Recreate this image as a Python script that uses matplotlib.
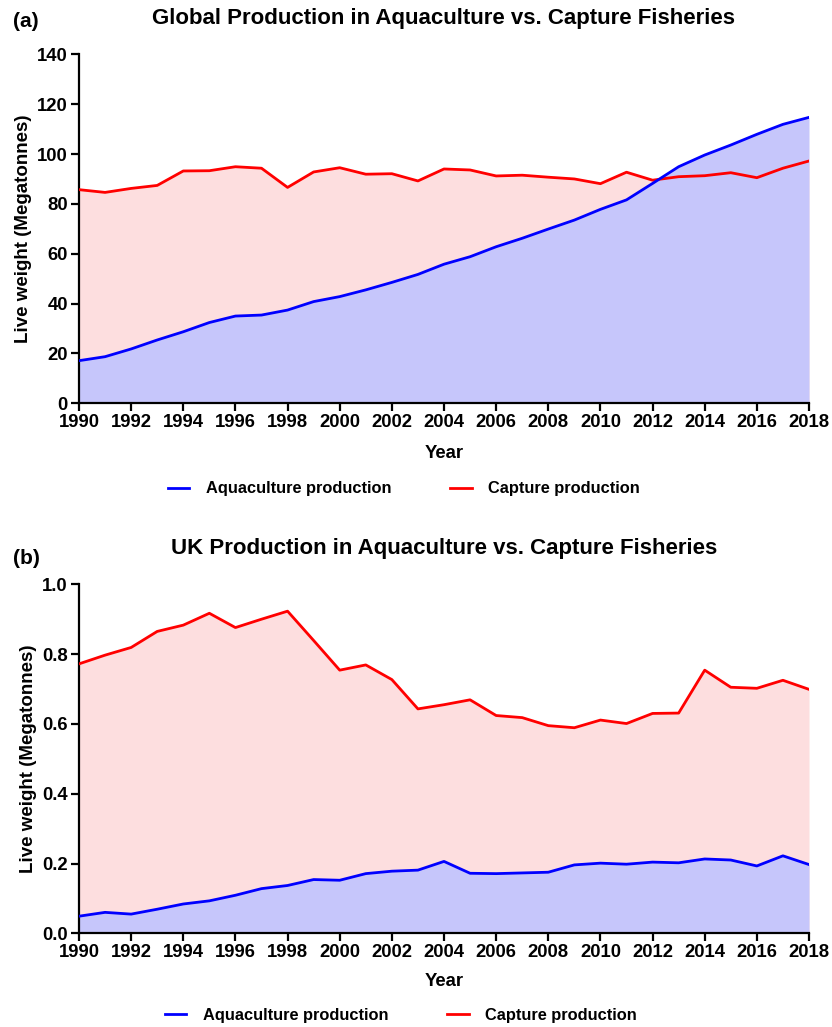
import matplotlib
matplotlib.use("Agg")
import matplotlib.pyplot as plt
import numpy as np

years = list(range(1990, 2019))

global_aqua = [17.1, 18.7, 21.8, 25.4, 28.7, 32.4, 35.0, 35.4, 37.4, 40.8,
               42.8, 45.5, 48.5, 51.7, 55.8, 58.8, 62.8, 66.2, 69.9, 73.5,
               77.8, 81.6, 88.2, 94.9, 99.6, 103.6, 107.9, 111.9, 114.7]
global_capture = [85.7, 84.6, 86.2, 87.4, 93.2, 93.3, 94.9, 94.3, 86.6, 92.8,
                  94.5, 91.9, 92.1, 89.2, 94.0, 93.6, 91.2, 91.5, 90.7, 90.0,
                  88.1, 92.7, 89.5, 90.9, 91.3, 92.5, 90.5, 94.3, 97.2]

uk_aqua = [0.049, 0.060, 0.055, 0.069, 0.084, 0.093, 0.109, 0.128, 0.137, 0.154,
           0.152, 0.171, 0.178, 0.181, 0.206, 0.172, 0.171, 0.173, 0.175, 0.196,
           0.201, 0.198, 0.204, 0.202, 0.213, 0.210, 0.193, 0.222, 0.197]
uk_capture = [0.772, 0.797, 0.819, 0.865, 0.883, 0.917, 0.876, 0.900, 0.923, 0.839,
              0.754, 0.769, 0.727, 0.643, 0.655, 0.669, 0.624, 0.618, 0.595, 0.589,
              0.611, 0.601, 0.630, 0.631, 0.754, 0.705, 0.702, 0.725, 0.699]

titles = ["Global Production in Aquaculture vs. Capture Fisheries",
          "UK Production in Aquaculture vs. Capture Fisheries"]
panel_labels = ["(a)", "(b)"]
xticks = list(range(1990, 2019, 2))
yticks_global = [0, 20, 40, 60, 80, 100, 120, 140]
yticks_uk = [0.0, 0.2, 0.4, 0.6, 0.8, 1.0]

plt.rcParams['font.family'] = ['Liberation Sans', 'DejaVu Sans']
plt.rcParams['font.weight'] = 'bold'

W, H = 832, 1027
fig = plt.figure(figsize=(W / 100, H / 100), dpi=100)

def px_axes(left, top, right, bottom):
    return fig.add_axes([left / W, 1 - bottom / H, (right - left) / W, (bottom - top) / H])

ax1 = px_axes(79, 54.3, 809, 403.3)
ax2 = px_axes(79, 584.3, 809, 933.3)

pink = '#FDDEDF'
lblue = '#C6C6FB'

def draw(ax, aqua, cap, yticks, fmt, title, plabel, legend_xy, plabel_y, xlabelpad):
    ax.fill_between(years, 0, cap, color=pink, lw=0, zorder=1)
    ax.fill_between(years, 0, aqua, color=lblue, lw=0, zorder=2)
    l2, = ax.plot(years, cap, color='#FF0000', lw=2, zorder=3, label='Capture production')
    l1, = ax.plot(years, aqua, color='#0000FF', lw=2, zorder=4, label='Aquaculture production')
    ax.set_xlim(1990, 2018)
    ax.set_ylim(yticks[0], yticks[-1])
    ax.set_xticks(xticks)
    ax.set_yticks(yticks)
    ax.set_yticklabels([fmt.format(v) for v in yticks])
    for s in ['top', 'right']:
        ax.spines[s].set_visible(False)
    for s in ['left', 'bottom']:
        ax.spines[s].set_linewidth(1.6)
    ax.tick_params(axis='both', width=1.6, length=6, labelsize=13.3, pad=2)
    for lab in ax.get_xticklabels() + ax.get_yticklabels():
        lab.set_fontweight('bold')
    ax.set_xlabel('Year', fontsize=13.3, fontweight='bold', labelpad=xlabelpad)
    ax.set_ylabel('Live weight (Megatonnes)', fontsize=13.5, fontweight='bold', labelpad=4)
    ax.set_title(title, fontsize=16, fontweight='bold', pad=22)
    ax.text(-0.09, plabel_y, plabel, transform=ax.transAxes, fontsize=15, fontweight='bold',
            ha='left', va='center')
    leg = ax.legend(handles=[l1, l2], loc='center', bbox_to_anchor=legend_xy, ncol=2,
                    frameon=False, fontsize=11.8, handlelength=1.3, columnspacing=3.6,
                    handletextpad=1.0)
    for t in leg.get_texts():
        t.set_fontweight('bold')

draw(ax1, global_aqua, global_capture, yticks_global, '{:d}', titles[0], panel_labels[0],
     (0.445, -0.245), 1.095, 9.5)
draw(ax2, uk_aqua, uk_capture, yticks_uk, '{:.1f}', titles[1], panel_labels[1],
     (0.441, -0.235), 1.075, 8.5)

fig.savefig('out.png', dpi=100)
